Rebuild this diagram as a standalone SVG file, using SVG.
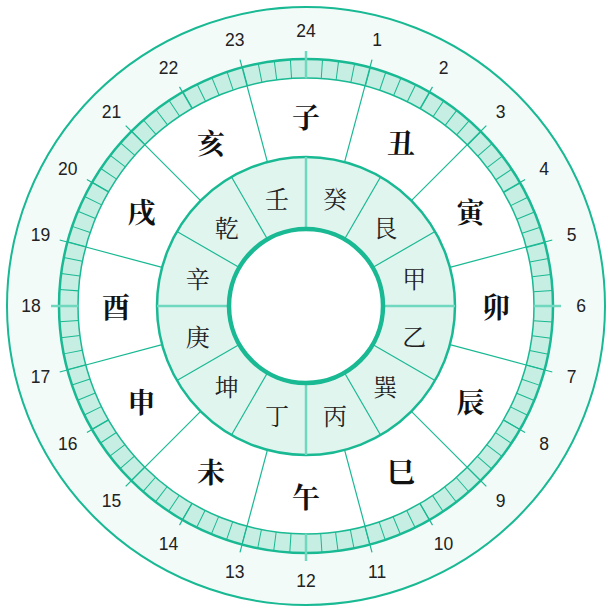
<svg xmlns="http://www.w3.org/2000/svg" xmlns:xlink="http://www.w3.org/1999/xlink" width="612" height="612" viewBox="0 0 612 612">
<style>
.ring{stroke:#19b993;}
.thin{stroke:#19b993;stroke-width:1.2;fill:none;}
.light{stroke:#6fd8bf;stroke-width:2.5;fill:none;}
.hour{font-family:"Liberation Sans","Noto Sans",sans-serif;font-size:17.5px;fill:#222;text-anchor:middle;dominant-baseline:central;}
.branch{font-family:"Noto Serif CJK SC","Noto Sans CJK SC",serif;font-size:28px;font-weight:bold;fill:#111;text-anchor:middle;dominant-baseline:central;}
.stem{font-family:"Noto Serif CJK SC","Noto Sans CJK SC",serif;font-size:24px;fill:#222;text-anchor:middle;dominant-baseline:central;}
</style>
<defs>
<line id="div" x1="306" y1="51" x2="306" y2="157" class="thin"/>
<line id="htick" x1="306" y1="53" x2="306" y2="78" class="thin"/>
<line id="sdiv" x1="306" y1="157" x2="306" y2="229" class="thin"/>
</defs>
<g id="rings">
<circle cx="306" cy="306" r="299" fill="#f3fbf9" class="ring" stroke-width="2"/>
<circle cx="306" cy="306" r="237.5" fill="#ffffff" stroke="#c6eee2" stroke-width="19"/>
<circle cx="306" cy="306" r="237.5" fill="none" stroke="#19b993" stroke-width="19" stroke-dasharray="1 14.544" stroke-dashoffset="0.5"/>
<circle cx="306" cy="306" r="247" fill="none" class="ring" stroke-width="2.5"/>
<circle cx="306" cy="306" r="228" fill="none" class="ring" stroke-width="1.5"/>
<circle cx="306" cy="306" r="149" fill="#e1f5ef" class="ring" stroke-width="2.5"/>
</g>
<g id="connectors">
<use xlink:href="#div" transform="rotate(15 306 306)"/>
<use xlink:href="#div" transform="rotate(45 306 306)"/>
<use xlink:href="#div" transform="rotate(75 306 306)"/>
<use xlink:href="#div" transform="rotate(105 306 306)"/>
<use xlink:href="#div" transform="rotate(135 306 306)"/>
<use xlink:href="#div" transform="rotate(165 306 306)"/>
<use xlink:href="#div" transform="rotate(195 306 306)"/>
<use xlink:href="#div" transform="rotate(225 306 306)"/>
<use xlink:href="#div" transform="rotate(255 306 306)"/>
<use xlink:href="#div" transform="rotate(285 306 306)"/>
<use xlink:href="#div" transform="rotate(315 306 306)"/>
<use xlink:href="#div" transform="rotate(345 306 306)"/>
<use xlink:href="#htick" transform="rotate(30 306 306)"/>
<use xlink:href="#htick" transform="rotate(60 306 306)"/>
<use xlink:href="#htick" transform="rotate(120 306 306)"/>
<use xlink:href="#htick" transform="rotate(150 306 306)"/>
<use xlink:href="#htick" transform="rotate(210 306 306)"/>
<use xlink:href="#htick" transform="rotate(240 306 306)"/>
<use xlink:href="#htick" transform="rotate(300 306 306)"/>
<use xlink:href="#htick" transform="rotate(330 306 306)"/>
<use xlink:href="#sdiv" transform="rotate(30 306 306)"/>
<use xlink:href="#sdiv" transform="rotate(60 306 306)"/>
<use xlink:href="#sdiv" transform="rotate(120 306 306)"/>
<use xlink:href="#sdiv" transform="rotate(150 306 306)"/>
<use xlink:href="#sdiv" transform="rotate(210 306 306)"/>
<use xlink:href="#sdiv" transform="rotate(240 306 306)"/>
<use xlink:href="#sdiv" transform="rotate(300 306 306)"/>
<use xlink:href="#sdiv" transform="rotate(330 306 306)"/>
<path class="light" d="M306 51V78M306 534V561M51 306H78M534 306H561M306 157V229M306 383V455M157 306H229M383 306H455"/>
</g>
<circle id="center" cx="306" cy="306" r="77" fill="#ffffff" class="ring" stroke-width="4.5"/>
<g id="hours">
<text class="hour" x="306" y="31">24</text>
<text class="hour" x="377.2" y="40.4">1</text>
<text class="hour" x="443.5" y="67.8">2</text>
<text class="hour" x="500.5" y="111.6">3</text>
<text class="hour" x="544.2" y="168.5">4</text>
<text class="hour" x="571.6" y="234.8">5</text>
<text class="hour" x="581" y="306">6</text>
<text class="hour" x="571.6" y="377.2">7</text>
<text class="hour" x="544.2" y="443.5">8</text>
<text class="hour" x="500.5" y="500.5">9</text>
<text class="hour" x="443.5" y="544.2">10</text>
<text class="hour" x="377.2" y="571.6">11</text>
<text class="hour" x="306" y="581">12</text>
<text class="hour" x="234.8" y="571.6">13</text>
<text class="hour" x="168.5" y="544.2">14</text>
<text class="hour" x="111.5" y="500.5">15</text>
<text class="hour" x="67.8" y="443.5">16</text>
<text class="hour" x="40.4" y="377.2">17</text>
<text class="hour" x="31" y="306">18</text>
<text class="hour" x="40.4" y="234.8">19</text>
<text class="hour" x="67.8" y="168.5">20</text>
<text class="hour" x="111.5" y="111.5">21</text>
<text class="hour" x="168.5" y="67.8">22</text>
<text class="hour" x="234.8" y="40.4">23</text>
</g>
<g id="branches">
<text class="branch" x="306" y="116">子</text>
<text class="branch" x="401" y="141.5">丑</text>
<text class="branch" x="470.5" y="211">寅</text>
<text class="branch" x="496" y="306">卯</text>
<text class="branch" x="470.5" y="401">辰</text>
<text class="branch" x="401" y="470.5">巳</text>
<text class="branch" x="306" y="496">午</text>
<text class="branch" x="211" y="470.5">未</text>
<text class="branch" x="141.5" y="401">申</text>
<text class="branch" x="116" y="306">酉</text>
<text class="branch" x="141.5" y="211">戌</text>
<text class="branch" x="211" y="141.5">亥</text>
</g>
<g id="stems">
<text class="stem" x="335" y="197.8">癸</text>
<text class="stem" x="385.2" y="226.8">艮</text>
<text class="stem" x="414.2" y="277">甲</text>
<text class="stem" x="414.2" y="335">乙</text>
<text class="stem" x="385.2" y="385.2">巽</text>
<text class="stem" x="335" y="414.2">丙</text>
<text class="stem" x="277" y="414.2">丁</text>
<text class="stem" x="226.8" y="385.2">坤</text>
<text class="stem" x="197.8" y="335">庚</text>
<text class="stem" x="197.8" y="277">辛</text>
<text class="stem" x="226.8" y="226.8">乾</text>
<text class="stem" x="277" y="197.8">壬</text>
</g>
</svg>
